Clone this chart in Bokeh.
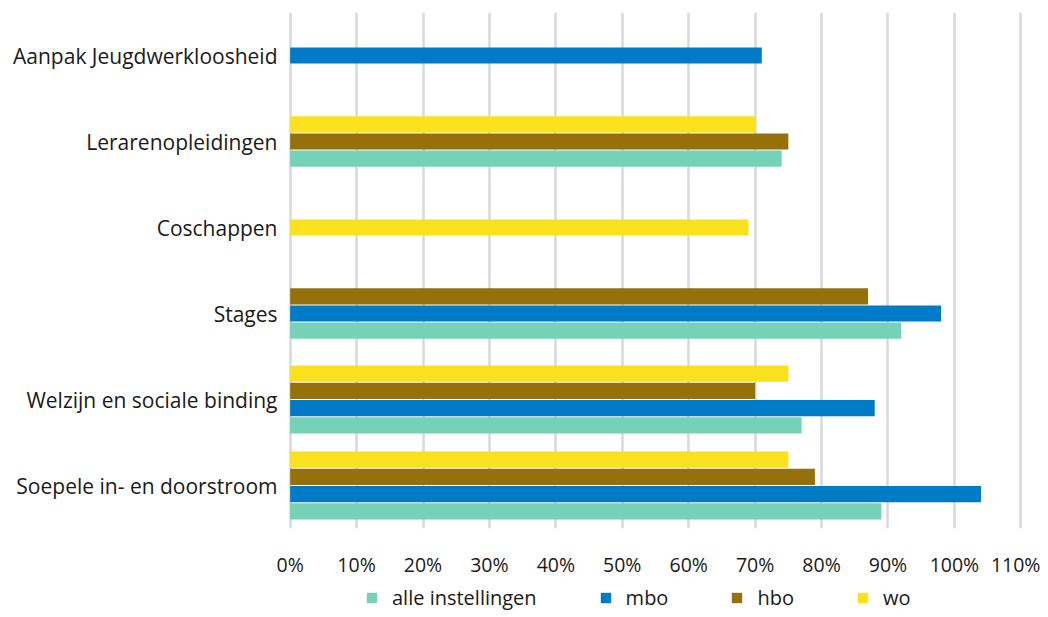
from bokeh.plotting import figure
from bokeh.layouts import column
from bokeh.models import ColumnDataSource, FixedTicker, Legend, LegendItem, PrintfTickFormatter, Range1d
from bokeh.embed import file_html
from bokeh.resources import INLINE

# categories, top to bottom as shown
categories = [
    "Aanpak Jeugdwerkloosheid",
    "Lerarenopleidingen",
    "Coschappen",
    "Stages",
    "Welzijn en sociale binding",
    "Soepele in- en doorstroom",
]
series_names = ["alle instellingen", "mbo", "hbo", "wo"]
series_colors = ["#76d2b6", "#007bc7", "#94710a", "#f9e11e"]

# values in %, None = no bar
alle = [None, 74, None, 92, 77, 89]
mbo = [71, None, None, 98, 88, 104]
hbo = [None, 75, None, 87, 70, 79]
wo = [None, 70, 69, None, 75, 75]

x_ticks = [0, 10, 20, 30, 40, 50, 60, 70, 80, 90, 100, 110]

all_series = [alle, mbo, hbo, wo]
n = len(categories)
FONT = "Open Sans"

p = figure(width=1040, height=580, output_backend="svg", toolbar_location=None,
           x_range=Range1d(-0.4, 110.4), y_range=Range1d(-0.5, n - 0.5),
           min_border_left=287, min_border_right=17, min_border_top=12,
           min_border_bottom=50)
p.outline_line_color = None
p.background_fill_color = "white"

step = 0.2
bar_h = 0.188
sources = []
for s_idx, (vals, color) in enumerate(zip(all_series, series_colors)):
    ys, xs = [], []
    for c_idx in range(n):
        v = vals[c_idx]
        if v is None:
            continue
        # which series are present in this category (top to bottom: wo, hbo, mbo, alle)
        present = [k for k in (3, 2, 1, 0) if all_series[k][c_idx] is not None]
        m = len(present)
        pos = present.index(s_idx)
        offset = ((m - 1) / 2 - pos) * step
        ys.append((n - 1 - c_idx) + offset)
        xs.append(v)
    src = ColumnDataSource(dict(y=ys, right=xs))
    sources.append(src)
    p.hbar(y="y", left=0, right="right", height=bar_h, source=src,
           fill_color=color, line_color=None)

# x axis
p.xaxis.ticker = FixedTicker(ticks=x_ticks)
p.xaxis.formatter = PrintfTickFormatter(format="%d%%")
p.xaxis.axis_line_color = None
p.xaxis.major_tick_line_color = None
p.xaxis.minor_tick_line_color = None
p.xaxis.major_label_standoff = 16
p.xaxis.major_label_text_font = FONT
p.xaxis.major_label_text_font_size = "19.5px"
p.xaxis.major_label_text_color = "#1a1a1a"

# y axis
p.yaxis.ticker = FixedTicker(ticks=list(range(n)))
p.yaxis.major_label_overrides = {n - 1 - i: c for i, c in enumerate(categories)}
p.yaxis.axis_line_color = None
p.yaxis.major_tick_line_color = None
p.yaxis.minor_tick_line_color = None
p.yaxis.major_label_standoff = 4
p.yaxis.major_label_text_font = FONT
p.yaxis.major_label_text_font_size = "21px"
p.yaxis.major_label_text_color = "#1a1a1a"

p.ygrid.grid_line_color = None
p.xgrid.grid_line_color = "#d9d9d9"
p.xgrid.grid_line_width = 2.5

# legend strip below the chart (same series, out of view, only for the legend)
p2 = figure(width=1040, height=36, output_backend="svg", toolbar_location=None,
            min_border=0, x_range=Range1d(0, 1), y_range=Range1d(100, 101))
p2.axis.visible = False
p2.grid.visible = False
p2.outline_line_color = None
leg_renderers = []
for src, color in zip(sources, series_colors):
    r = p2.hbar(y="y", left=0, right="right", height=bar_h, source=src,
                fill_color=color, line_color=None)
    leg_renderers.append(r)

legend = Legend(items=[LegendItem(label=nm, renderers=[r]) for nm, r in zip(series_names, leg_renderers)],
                orientation="horizontal", location=(78, 5),
                label_text_font=FONT, label_text_font_size="20px", label_text_color="#1a1a1a",
                glyph_width=13, glyph_height=13, label_standoff=14, spacing=62,
                border_line_color=None, background_fill_alpha=0, padding=0, margin=0)
p2.add_layout(legend)

layout = column(p, p2, spacing=0)
open("out.html", "w").write(file_html(layout, INLINE))
